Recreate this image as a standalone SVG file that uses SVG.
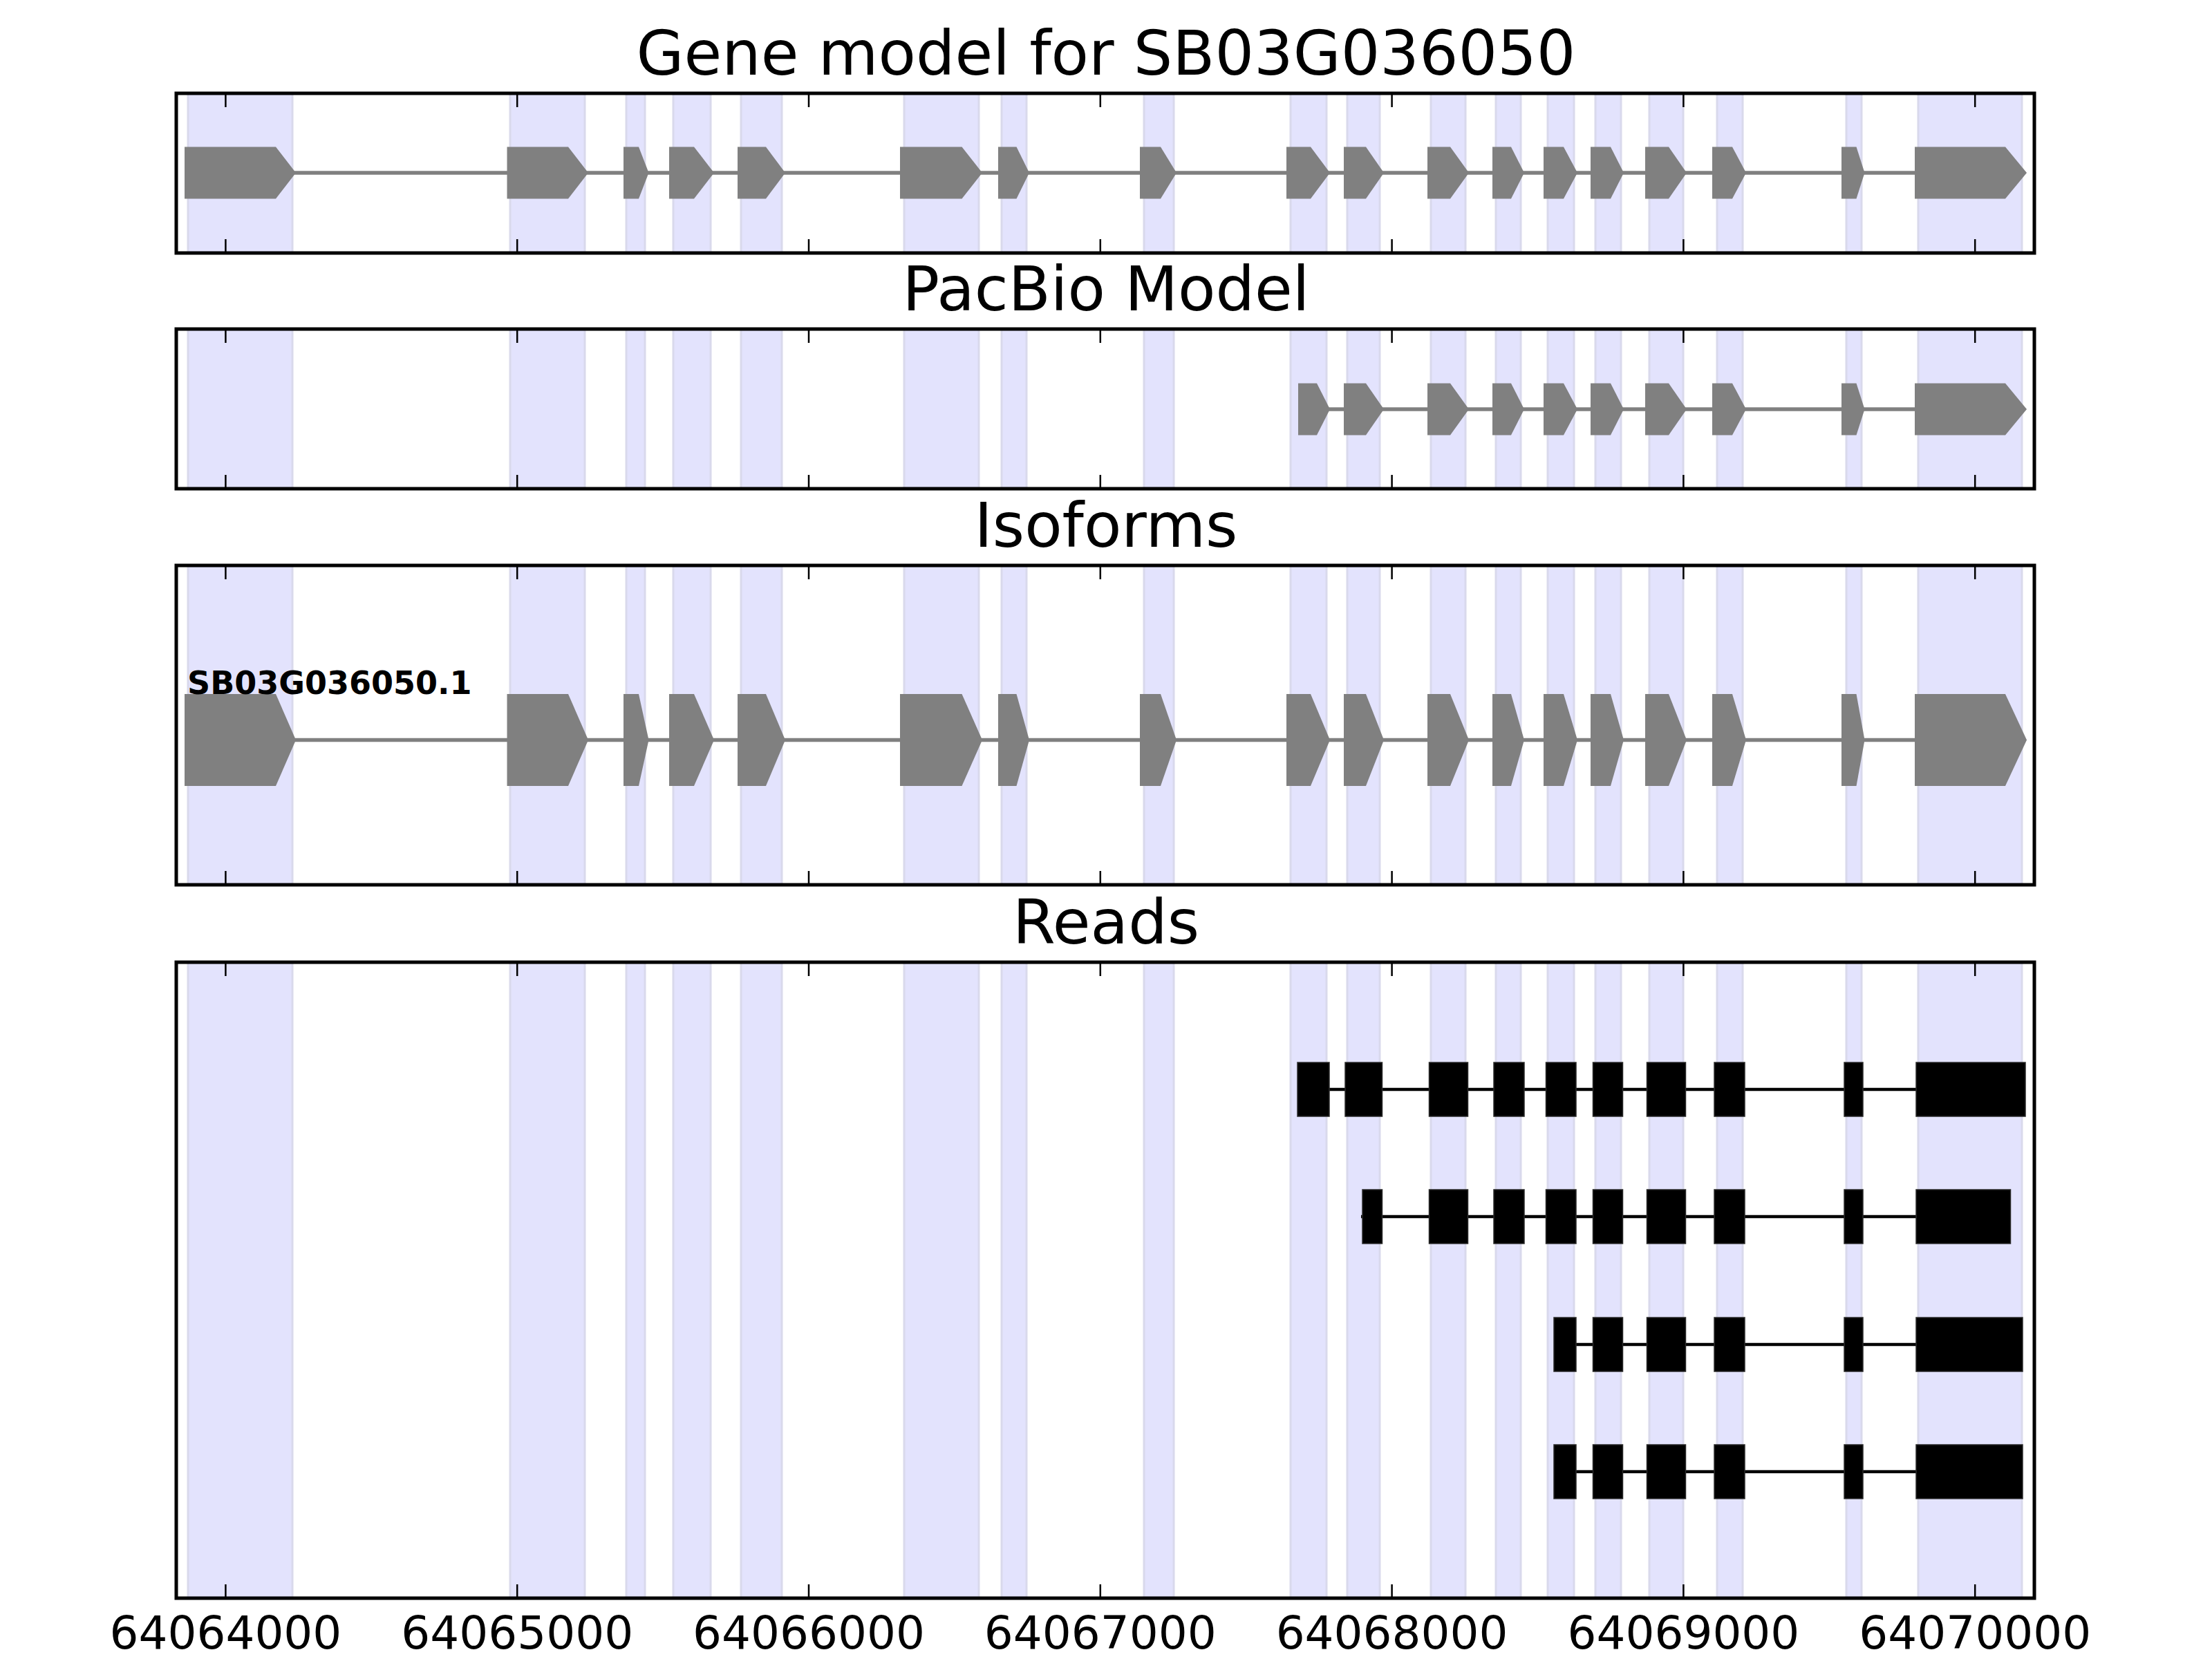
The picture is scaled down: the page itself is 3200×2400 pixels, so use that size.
<svg xmlns="http://www.w3.org/2000/svg" xmlns:xlink="http://www.w3.org/1999/xlink" width="3200" height="2400" viewBox="0 0 3200 2400">
<style>
.frame{fill:none;stroke:#000;stroke-width:5}
.tick{stroke:#000;stroke-width:2.5}
.title{font-family:"DejaVu Sans",sans-serif;font-size:89px;text-anchor:middle;fill:#000}
.tl{font-family:"DejaVu Sans",sans-serif;font-size:66px;text-anchor:middle;fill:#000}
.lbl{font-family:"DejaVu Sans",sans-serif;font-size:46px;font-weight:bold;fill:#000}
.intron{stroke:#808080;stroke-width:5.5}
.rintron{stroke:#000;stroke-width:4.5}
.gexon{fill:#808080}
.rexon{fill:#000;stroke:#2a2a2a;stroke-width:1.5}
.shade{fill:#e3e3fd;stroke:#d9d9ec;stroke-width:3}
</style>
<defs>
<g id="shades">
<rect class="shade" x="272" y="0" width="151" height="2400"/>
<rect class="shade" x="738" y="0" width="108" height="2400"/>
<rect class="shade" x="906" y="0" width="27" height="2400"/>
<rect class="shade" x="974" y="0" width="54" height="2400"/>
<rect class="shade" x="1072" y="0" width="59" height="2400"/>
<rect class="shade" x="1308" y="0" width="108" height="2400"/>
<rect class="shade" x="1449" y="0" width="36" height="2400"/>
<rect class="shade" x="1655" y="0" width="43" height="2400"/>
<rect class="shade" x="1867" y="0" width="52" height="2400"/>
<rect class="shade" x="1949" y="0" width="47" height="2400"/>
<rect class="shade" x="2070" y="0" width="50" height="2400"/>
<rect class="shade" x="2164" y="0" width="36" height="2400"/>
<rect class="shade" x="2239" y="0" width="38" height="2400"/>
<rect class="shade" x="2308" y="0" width="37" height="2400"/>
<rect class="shade" x="2386" y="0" width="49" height="2400"/>
<rect class="shade" x="2484" y="0" width="37" height="2400"/>
<rect class="shade" x="2671" y="0" width="22" height="2400"/>
<rect class="shade" x="2775" y="0" width="150" height="2400"/>
</g>
<g id="gm">
<polygon class="gexon" points="267,-1 399,-1 428,0 399,1 267,1"/>
<polygon class="gexon" points="733.5,-1 822,-1 851,0 822,1 733.5,1"/>
<polygon class="gexon" points="902,-1 924,-1 938.5,0 924,1 902,1"/>
<polygon class="gexon" points="968,-1 1004,-1 1033,0 1004,1 968,1"/>
<polygon class="gexon" points="1067,-1 1108,-1 1136,0 1108,1 1067,1"/>
<polygon class="gexon" points="1302,-1 1391.5,-1 1421,0 1391.5,1 1302,1"/>
<polygon class="gexon" points="1444,-1 1470.5,-1 1489,0 1470.5,1 1444,1"/>
<polygon class="gexon" points="1649,-1 1679,-1 1702,0 1679,1 1649,1"/>
<polygon class="gexon" points="1861,-1 1896,-1 1924,0 1896,1 1861,1"/>
<g id="common">
<polygon class="gexon" points="1944,-1 1976,-1 2002,0 1976,1 1944,1"/>
<polygon class="gexon" points="2065,-1 2098,-1 2125,0 2098,1 2065,1"/>
<polygon class="gexon" points="2159,-1 2186,-1 2205,0 2186,1 2159,1"/>
<polygon class="gexon" points="2233,-1 2262,-1 2282,0 2262,1 2233,1"/>
<polygon class="gexon" points="2301,-1 2330,-1 2349,0 2330,1 2301,1"/>
<polygon class="gexon" points="2380,-1 2414,-1 2440,0 2414,1 2380,1"/>
<polygon class="gexon" points="2477,-1 2506,-1 2526,0 2506,1 2477,1"/>
<polygon class="gexon" points="2664,-1 2685.5,-1 2697.5,0 2685.5,1 2664,1"/>
<polygon class="gexon" points="2770,-1 2901,-1 2932,0 2901,1 2770,1"/>
</g>
</g>
<g id="readtail">
<rect class="rexon" x="2304.5" y="-39" width="43" height="78"/>
<rect class="rexon" x="2382.5" y="-39" width="56" height="78"/>
<rect class="rexon" x="2480" y="-39" width="44" height="78"/>
<rect class="rexon" x="2668" y="-39" width="27" height="78"/>
</g>
<g id="readmid">
<rect class="rexon" x="2067.5" y="-39" width="56" height="78"/>
<rect class="rexon" x="2161" y="-39" width="44" height="78"/>
<rect class="rexon" x="2236.5" y="-39" width="43.5" height="78"/>
</g>
<clipPath id="c1"><rect x="255" y="135" width="2688" height="231"/></clipPath>
<clipPath id="c2"><rect x="255" y="476" width="2688" height="231"/></clipPath>
<clipPath id="c3"><rect x="255" y="818" width="2688" height="462"/></clipPath>
<clipPath id="c4"><rect x="255" y="1392" width="2688" height="920"/></clipPath>
<g id="ticks">
<line class="tick" x1="326.4" y1="0" x2="326.4" y2="20"/>
<line class="tick" x1="748.2" y1="0" x2="748.2" y2="20"/>
<line class="tick" x1="1170" y1="0" x2="1170" y2="20"/>
<line class="tick" x1="1591.8" y1="0" x2="1591.8" y2="20"/>
<line class="tick" x1="2013.6" y1="0" x2="2013.6" y2="20"/>
<line class="tick" x1="2435.4" y1="0" x2="2435.4" y2="20"/>
<line class="tick" x1="2857.2" y1="0" x2="2857.2" y2="20"/>
</g>
</defs>
<rect width="3200" height="2400" fill="#fff"/>

<g id="panel-gene-model">
<text class="title" x="1600" y="108">Gene model for SB03G036050</text>
<use xlink:href="#shades" clip-path="url(#c1)"/>
<line class="intron" x1="267" y1="250" x2="2770" y2="250"/>
<use xlink:href="#gm" transform="translate(0,250) scale(1,37.5)"/>
<rect class="frame" x="255" y="135" width="2688" height="231"/>
<use xlink:href="#ticks" transform="translate(0,135)"/>
<use xlink:href="#ticks" transform="translate(0,366) scale(1,-1)"/>
</g>

<g id="panel-pacbio">
<text class="title" x="1600" y="449">PacBio Model</text>
<use xlink:href="#shades" clip-path="url(#c2)"/>
<line class="intron" x1="1878" y1="592" x2="2770" y2="592"/>
<polygon class="gexon" points="1878,554.5 1905,554.5 1924,592 1905,629.5 1878,629.5"/>
<use xlink:href="#common" transform="translate(0,592) scale(1,37.5)"/>
<rect class="frame" x="255" y="476" width="2688" height="231"/>
<use xlink:href="#ticks" transform="translate(0,476)"/>
<use xlink:href="#ticks" transform="translate(0,707) scale(1,-1)"/>
</g>

<g id="panel-isoforms">
<text class="title" x="1600" y="791">Isoforms</text>
<use xlink:href="#shades" clip-path="url(#c3)"/>
<line class="intron" x1="267" y1="1070.5" x2="2770" y2="1070.5"/>
<use xlink:href="#gm" transform="translate(0,1070.5) scale(1,66.5)"/>
<text class="lbl" x="271" y="1004">SB03G036050.1</text>
<rect class="frame" x="255" y="818" width="2688" height="462"/>
<use xlink:href="#ticks" transform="translate(0,818)"/>
<use xlink:href="#ticks" transform="translate(0,1280) scale(1,-1)"/>
</g>

<g id="panel-reads">
<text class="title" x="1600" y="1365">Reads</text>
<use xlink:href="#shades" clip-path="url(#c4)"/>
<g id="read1" transform="translate(0,1576)">
<line class="rintron" x1="1877" y1="0" x2="2930" y2="0"/>
<rect class="rexon" x="1877" y="-39" width="46" height="78"/>
<rect class="rexon" x="1946" y="-39" width="53.5" height="78"/>
<use xlink:href="#readmid"/>
<use xlink:href="#readtail"/>
<rect class="rexon" x="2772" y="-39" width="158" height="78"/>
</g>
<g id="read2" transform="translate(0,1760)">
<line class="rintron" x1="1969" y1="0" x2="2908.5" y2="0"/>
<rect class="rexon" x="1971" y="-39" width="28.5" height="78"/>
<use xlink:href="#readmid"/>
<use xlink:href="#readtail"/>
<rect class="rexon" x="2772" y="-39" width="136.5" height="78"/>
</g>
<g id="read3" transform="translate(0,1945)">
<line class="rintron" x1="2248" y1="0" x2="2926" y2="0"/>
<rect class="rexon" x="2248" y="-39" width="32" height="78"/>
<use xlink:href="#readtail"/>
<rect class="rexon" x="2772" y="-39" width="154" height="78"/>
</g>
<g id="read4" transform="translate(0,2129)">
<line class="rintron" x1="2248" y1="0" x2="2926" y2="0"/>
<rect class="rexon" x="2248" y="-39" width="32" height="78"/>
<use xlink:href="#readtail"/>
<rect class="rexon" x="2772" y="-39" width="154" height="78"/>
</g>
<rect class="frame" x="255" y="1392" width="2688" height="920"/>
<use xlink:href="#ticks" transform="translate(0,1392)"/>
<use xlink:href="#ticks" transform="translate(0,2312) scale(1,-1)"/>
<text class="tl" x="326.4" y="2385">64064000</text>
<text class="tl" x="748.2" y="2385">64065000</text>
<text class="tl" x="1170" y="2385">64066000</text>
<text class="tl" x="1591.8" y="2385">64067000</text>
<text class="tl" x="2013.6" y="2385">64068000</text>
<text class="tl" x="2435.4" y="2385">64069000</text>
<text class="tl" x="2857.2" y="2385">64070000</text>
</g>
</svg>
